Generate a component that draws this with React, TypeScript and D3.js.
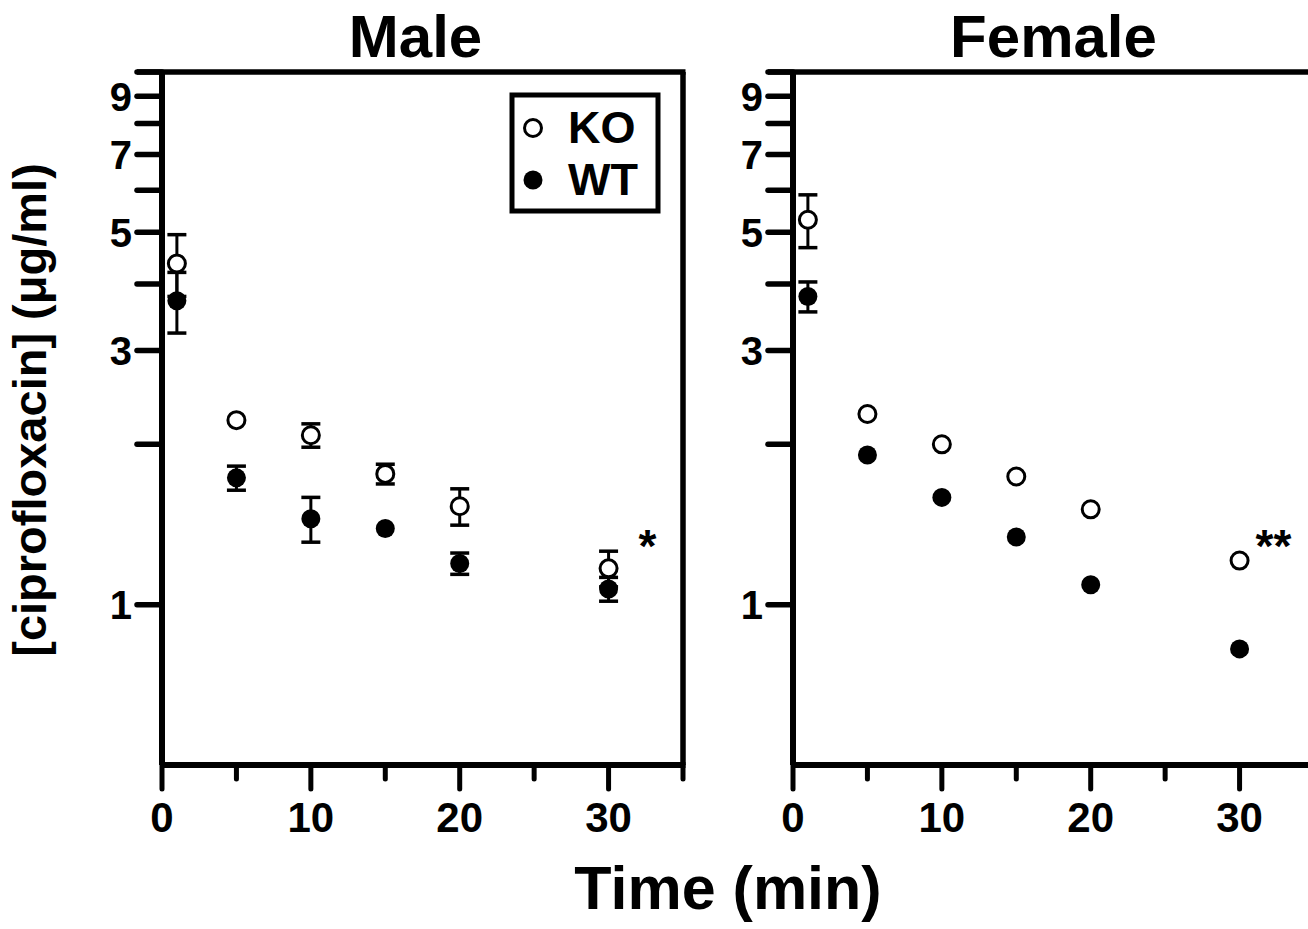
import { useEffect, useRef } from 'react';
import * as d3 from 'd3';

// sampling times (min)
const TIMES = [1, 5, 10, 15, 20, 30];

// plasma ciprofloxacin (ug/ml), mean and SEM
const MALE_KO_MEAN = [4.37, 2.22, 2.08, 1.76, 1.53, 1.17];
const MALE_KO_SEM = [0.58, 0.04, 0.105, 0.075, 0.12, 0.09];
const MALE_WT_MEAN = [3.72, 1.73, 1.45, 1.39, 1.195, 1.07];
const MALE_WT_SEM = [0.485, 0.09, 0.14, 0.04, 0.055, 0.055];

const FEMALE_KO_MEAN = [5.28, 2.28, 2.0, 1.74, 1.51, 1.21];
const FEMALE_KO_SEM = [0.6, 0.05, 0.04, 0.04, 0.03, 0.03];
const FEMALE_WT_MEAN = [3.79, 1.91, 1.59, 1.34, 1.09, 0.826];
const FEMALE_WT_SEM = [0.245, 0.04, 0.04, 0.03, 0.03, 0.02];

const X_TICKS = [0, 5, 10, 15, 20, 25, 30, 35];
const X_LABELS = [0, 10, 20, 30];
const Y_TICKS = [1, 2, 3, 4, 5, 6, 7, 8, 9, 10];
const Y_LABELS = [1, 3, 5, 7, 9];

const LEGEND = ['KO', 'WT'];

const W = 1308;
const H = 929;
const FONT = '"Liberation Sans", Arial, Helvetica, sans-serif';

const TOP = 72;
const BOTTOM = 765;
const PANEL_W = 521;
const R = 9.5; // filled marker radius
const RO = 8.5; // open marker radius (plus stroke)

export default function App() {
  const svgRef = useRef<SVGSVGElement>(null);

  useEffect(() => {
    const el = svgRef.current;
    if (!el) return;
    d3.select(el).selectAll('*').remove();
    const svg = d3.select(el);

    const y = d3.scaleLog().domain([0.5, 10]).range([BOTTOM, TOP]);

    const panels = [
      { title: 'Male', left: 162, titleDx: -7, ko: [MALE_KO_MEAN, MALE_KO_SEM], wt: [MALE_WT_MEAN, MALE_WT_SEM], star: '*', starDx: 30, legend: true },
      { title: 'Female', left: 793, titleDx: 0, ko: [FEMALE_KO_MEAN, FEMALE_KO_SEM], wt: [FEMALE_WT_MEAN, FEMALE_WT_SEM], star: '**', starDx: 16, legend: false },
    ];

    panels.forEach((p) => {
      const x = d3.scaleLinear().domain([0, 35]).range([p.left, p.left + PANEL_W]);
      const g = svg.append('g');
      const x0 = x(0);
      const x1 = x(35);

      // frame
      g.append('line').attr('x1', x0).attr('x2', x0).attr('y1', TOP).attr('y2', BOTTOM)
        .attr('stroke', '#000').attr('stroke-width', 6);
      g.append('line').attr('x1', x0).attr('x2', x1 + 2.5).attr('y1', BOTTOM).attr('y2', BOTTOM)
        .attr('stroke', '#000').attr('stroke-width', 6);
      g.append('line').attr('x1', x0 - 25).attr('x2', x1 + 2.5).attr('y1', TOP).attr('y2', TOP)
        .attr('stroke', '#000').attr('stroke-width', 5.5);
      g.append('line').attr('x1', x1).attr('x2', x1).attr('y1', TOP).attr('y2', BOTTOM)
        .attr('stroke', '#000').attr('stroke-width', 5.5);

      // y ticks
      Y_TICKS.forEach((v) => {
        g.append('line').attr('x1', x0 - 25).attr('x2', x0).attr('y1', y(v)).attr('y2', y(v))
          .attr('stroke', '#000').attr('stroke-width', 5.5).attr('stroke-linecap', 'round');
      });
      Y_LABELS.forEach((v) => {
        g.append('text').attr('x', x0 - 30).attr('y', y(v)).attr('dy', '0.36em')
          .attr('text-anchor', 'end').attr('font-family', FONT).attr('font-weight', 'bold')
          .attr('font-size', 40).text(v);
      });

      // x ticks
      X_TICKS.forEach((v) => {
        const major = X_LABELS.includes(v);
        g.append('line').attr('x1', x(v)).attr('x2', x(v)).attr('y1', BOTTOM).attr('y2', BOTTOM + (major ? 24 : 14))
          .attr('stroke', '#000').attr('stroke-width', 5).attr('stroke-linecap', 'round');
      });
      X_LABELS.forEach((v) => {
        g.append('text').attr('x', x(v)).attr('y', 832)
          .attr('text-anchor', 'middle').attr('font-family', FONT).attr('font-weight', 'bold')
          .attr('font-size', 42).text(v);
      });

      // title
      g.append('text').attr('x', (x0 + x1) / 2 + p.titleDx).attr('y', 57)
        .attr('text-anchor', 'middle').attr('font-family', FONT).attr('font-weight', 'bold')
        .attr('font-size', 60).text(p.title);

      // error bars (hidden when shorter than the symbol)
      [p.ko, p.wt].forEach(([mean, sem]) => {
        TIMES.forEach((t, i) => {
          const cx = x(t);
          const cy = y(mean[i]);
          [mean[i] + sem[i], mean[i] - sem[i]].forEach((end) => {
            const ey = y(end);
            if (Math.abs(ey - cy) <= R) return;
            g.append('line').attr('x1', cx).attr('x2', cx).attr('y1', cy).attr('y2', ey)
              .attr('stroke', '#000').attr('stroke-width', 3);
            g.append('line').attr('x1', cx - 9.5).attr('x2', cx + 9.5).attr('y1', ey).attr('y2', ey)
              .attr('stroke', '#000').attr('stroke-width', 3.5);
          });
        });
      });

      // WT filled
      TIMES.forEach((t, i) => {
        g.append('circle').attr('cx', x(t)).attr('cy', y(p.wt[0][i])).attr('r', R).attr('fill', '#000');
      });
      // KO open
      TIMES.forEach((t, i) => {
        g.append('circle').attr('cx', x(t)).attr('cy', y(p.ko[0][i])).attr('r', RO)
          .attr('fill', '#fff').attr('stroke', '#000').attr('stroke-width', 3);
      });

      // significance mark
      g.append('text').attr('x', x(30) + p.starDx).attr('y', 562)
        .attr('font-family', FONT).attr('font-weight', 'bold').attr('font-size', 46).text(p.star);

      if (p.legend) {
        g.append('rect').attr('x', 512).attr('y', 95).attr('width', 146).attr('height', 116)
          .attr('fill', '#fff').attr('stroke', '#000').attr('stroke-width', 5);
        LEGEND.forEach((name, i) => {
          const ly = 128 + i * 52;
          const c = g.append('circle').attr('cx', 533).attr('cy', ly).attr('r', i === 0 ? RO : R);
          if (i === 0) c.attr('fill', '#fff').attr('stroke', '#000').attr('stroke-width', 3);
          else c.attr('fill', '#000');
          g.append('text').attr('x', 568).attr('y', ly + 15)
            .attr('font-family', FONT).attr('font-weight', 'bold').attr('font-size', 45).text(name);
        });
      }
    });

    // axis titles
    svg.append('text').attr('x', 728).attr('y', 909).attr('text-anchor', 'middle')
      .attr('font-family', FONT).attr('font-weight', 'bold').attr('font-size', 61).text('Time (min)');
    svg.append('text').attr('transform', 'translate(46,410) rotate(-90)').attr('text-anchor', 'middle')
      .attr('font-family', FONT).attr('font-weight', 'bold').attr('font-size', 47)
      .text('[ciprofloxacin] (\u03BCg/ml)');
  }, []);

  return (
    <svg
      ref={svgRef}
      width={W}
      height={H}
      style={{ position: 'absolute', left: 0, top: 0, background: '#fff', display: 'block' }}
    />
  );
}
